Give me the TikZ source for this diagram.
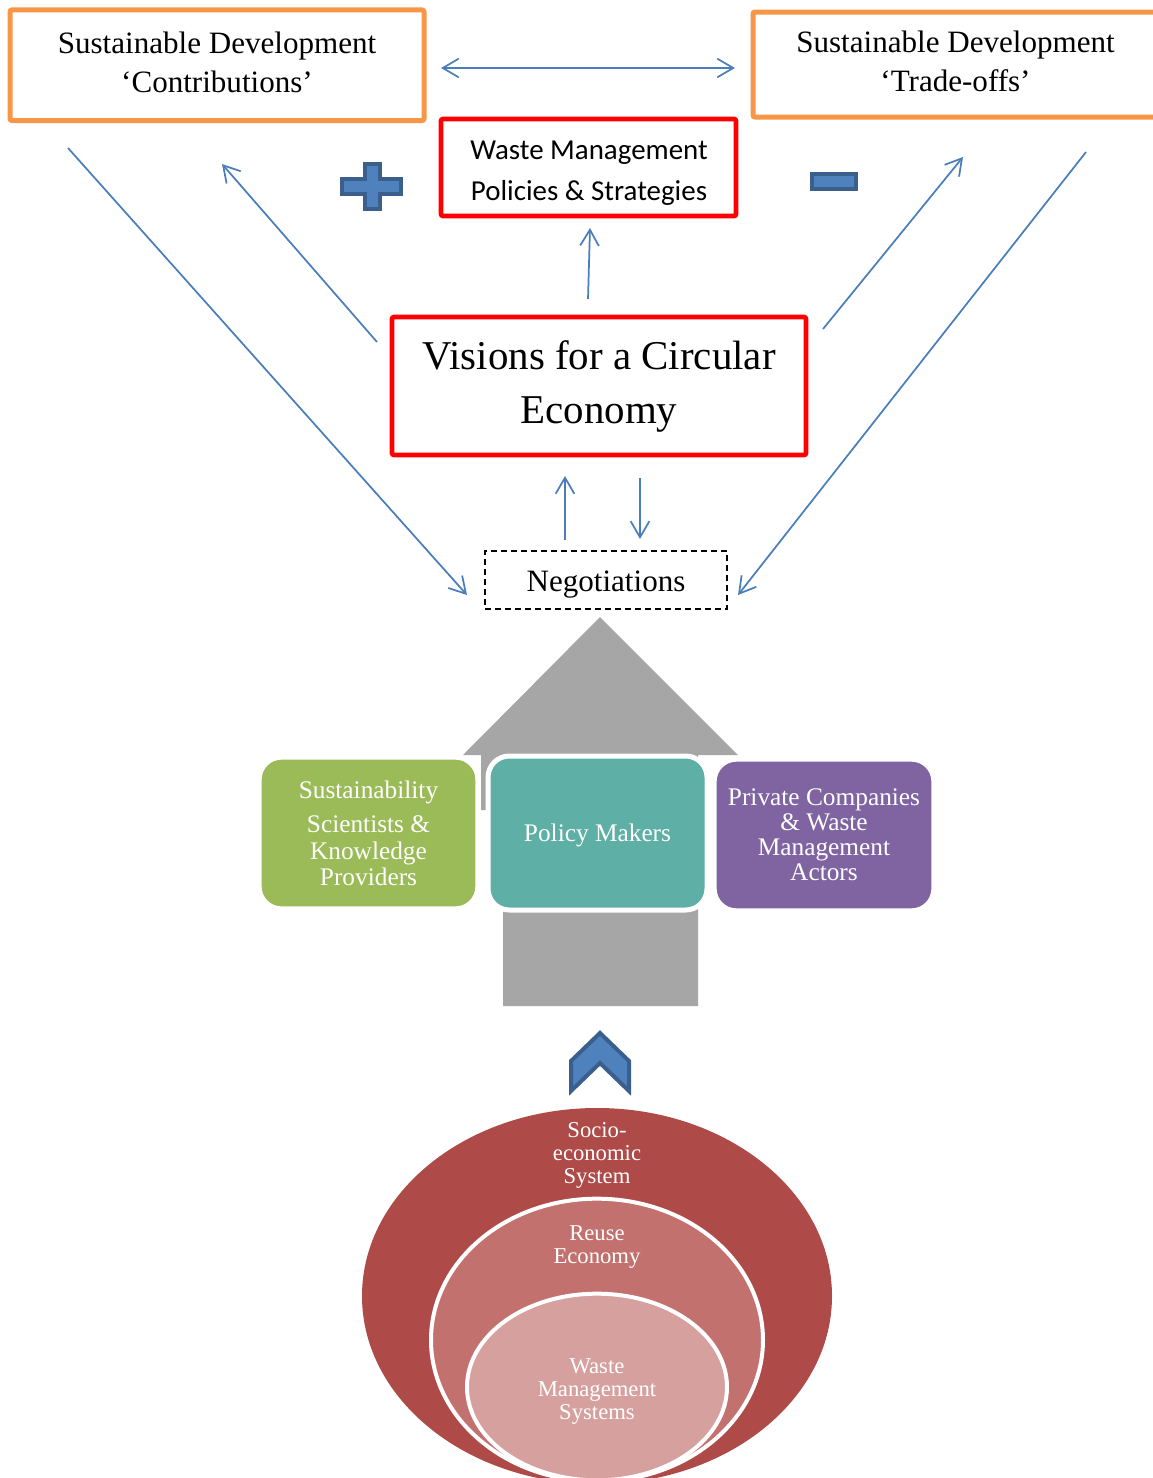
\documentclass[tikz,border=0pt]{standalone}
\usepackage{fontspec}
\setmainfont{Liberation Serif}
\newfontfamily\calibrifont{Carlito}
\usetikzlibrary{arrows.meta}

\definecolor{sdorange}{HTML}{F79646}
\definecolor{linkblue}{HTML}{4A7EBB}
\definecolor{markfill}{HTML}{4F81BD}
\definecolor{markedge}{HTML}{3A5F8D}
\definecolor{arrowgray}{HTML}{A6A6A6}
\definecolor{tilegreen}{HTML}{9BBB59}
\definecolor{tileteal}{HTML}{5EAFA6}
\definecolor{tilepurple}{HTML}{8064A2}
\definecolor{ringouter}{HTML}{AE4A47}
\definecolor{ringmid}{HTML}{C3716E}
\definecolor{ringinner}{HTML}{D6A09F}
\definecolor{frred}{HTML}{FF0000}

\begin{document}
\begin{tikzpicture}[x=0.75pt,y=-0.75pt,
  >={Straight Barb[length=12pt,width=14pt]},
  sdframe/.style={draw=sdorange,line width=3.75pt,rounded corners=1.5pt,inner sep=0pt,
    align=center,font=\fontsize{23.3}{29.25}\selectfont},
  redframe/.style={draw=frred,line width=3.5pt,rounded corners=1.5pt,inner sep=0pt,align=center},
  link/.style={draw=linkblue,line width=1.3pt,->},
  tile/.style={draw=white,rounded corners=16pt,inner sep=0pt},
  tiletext/.style={text=white,align=center,inner sep=0pt,font=\fontsize{19}{18.75}\selectfont},
  ringtext/.style={text=white,align=center,inner sep=0pt,font=\fontsize{17}{17.25}\selectfont},
  signmark/.style={fill=markfill,draw=markedge,line width=3pt}
]
\clip (0,0) rectangle (1153,1478);

% --- top row: sustainable development boxes
\node[sdframe,minimum width=310.5pt,minimum height=82.9pt] (contrib) at (217,65.25)
  {\strut Sustainable Development\\ \strut ‘Contributions’};
\node[sdframe,minimum width=303.75pt,minimum height=78.75pt] (tradeoff) at (955.5,64.5)
  {\strut Sustainable Development\\ \strut ‘Trade-offs’};
\coordinate (dblL) at (441,68);
\coordinate (dblR) at (735,68);
\draw[link,<->] (dblL) -- (dblR);

% --- policies box and signs
\node[redframe,minimum width=221.25pt,minimum height=72.75pt] (policies) at (588.5,167.5) {};
\node[align=center,inner sep=0pt,font=\calibrifont\fontsize{21.7}{30.75}\selectfont]
  (policiesText) at (589,171.5) {\strut Waste Management\\ \strut Policies \& Strategies};

\draw[signmark] (365,164) -- (380,164) -- (380,179) -- (401,179) -- (401,194) -- (380,194)
  -- (380,209) -- (365,209) -- (365,194) -- (342,194) -- (342,179) -- (365,179) -- cycle;
\draw[signmark] (812,174) rectangle (856,189);

% --- visions box
\node[redframe,minimum width=310.5pt,minimum height=103.5pt,
  font=\fontsize{30.7}{40.5}\selectfont] (visions) at (599,386)
  {\strut Visions for a Circular\\ \strut Economy};

% --- negotiations box
\node[draw=black,dashed,dash pattern=on 4.5pt off 3pt,line width=1.2pt,
  minimum width=181.5pt,minimum height=43.5pt,inner sep=0pt] (negot) at (606,580) {};
\node[inner sep=0pt,font=\fontsize{23.3}{29.25}\selectfont] (negotText) at (606,585) {Negotiations};

% --- connectors
\coordinate (visTop) at (588,299);   \coordinate (polBot) at (590,228);
\coordinate (visUL) at (377,342);    \coordinate (contribLow) at (222,164);
\coordinate (contribFoot) at (68,148); \coordinate (negL) at (467,595);
\coordinate (visUR) at (823,329);    \coordinate (tradeLow) at (963,157);
\coordinate (tradeFoot) at (1086,152); \coordinate (negR) at (738,595);
\coordinate (upS) at (565,540);      \coordinate (upE) at (565,476);
\coordinate (dnS) at (640,478);      \coordinate (dnE) at (640,539);
\draw[link] (visTop) -- (polBot);
\draw[link] (visUL) -- (contribLow);
\draw[link] (contribFoot) -- (negL);
\draw[link] (visUR) -- (tradeLow);
\draw[link] (tradeFoot) -- (negR);
\draw[link] (upS) -- (upE);
\draw[link] (dnS) -- (dnE);

% --- grey block arrow behind the actor tiles
\fill[arrowgray] (600,617) -- (738,755) -- (698,755) -- (698,1006) -- (503,1006)
  -- (503,810) -- (481,810) -- (481,755) -- (463,755) -- cycle;

% --- actor tiles
\node[tile,fill=tilegreen,line width=2.5pt,minimum width=162.75pt,minimum height=112.5pt]
  (science) at (368.5,833) {};
\node[tiletext] (scienceText) at (368.5,837)
  {\strut Sustainability\\[6.75pt]\strut Scientists \&\\ \strut Knowledge\\ \strut Providers};
\node[tile,fill=tileteal,line width=3.75pt,minimum width=164.25pt,minimum height=115.5pt]
  (makers) at (597.5,833) {};
\node[tiletext] (makersText) at (597.5,836) {\strut Policy Makers};
\node[tile,fill=tilepurple,line width=2.5pt,minimum width=163.5pt,minimum height=112.5pt]
  (private) at (824,835) {};
\node[tiletext] (privateText) at (824,838)
  {\strut Private Companies\\ \strut \& Waste\\ \strut Management\\ \strut Actors};

% --- chevron
\draw[signmark] (600,1033) -- (629,1061) -- (629,1091) -- (600,1063) -- (571,1091)
  -- (571,1061) -- cycle;

% --- nested systems
\fill[ringouter] (597,1296) ellipse [x radius=176.25pt, y radius=141pt];
\filldraw[fill=ringmid,draw=white,line width=3pt] (597,1340) ellipse [x radius=124.5pt, y radius=106pt];
\filldraw[fill=ringinner,draw=white,line width=3pt] (597,1387) ellipse [x radius=97.5pt, y radius=70pt];

\node[ringtext] (socio) at (597,1155.4) {\strut Socio-\\ \strut economic\\ \strut System};
\node[ringtext] (reuse) at (597,1246.9) {\strut Reuse\\ \strut Economy};
\node[ringtext] (wms) at (597,1391.4) {\strut Waste\\ \strut Management\\ \strut Systems};
\end{tikzpicture}
\end{document}
